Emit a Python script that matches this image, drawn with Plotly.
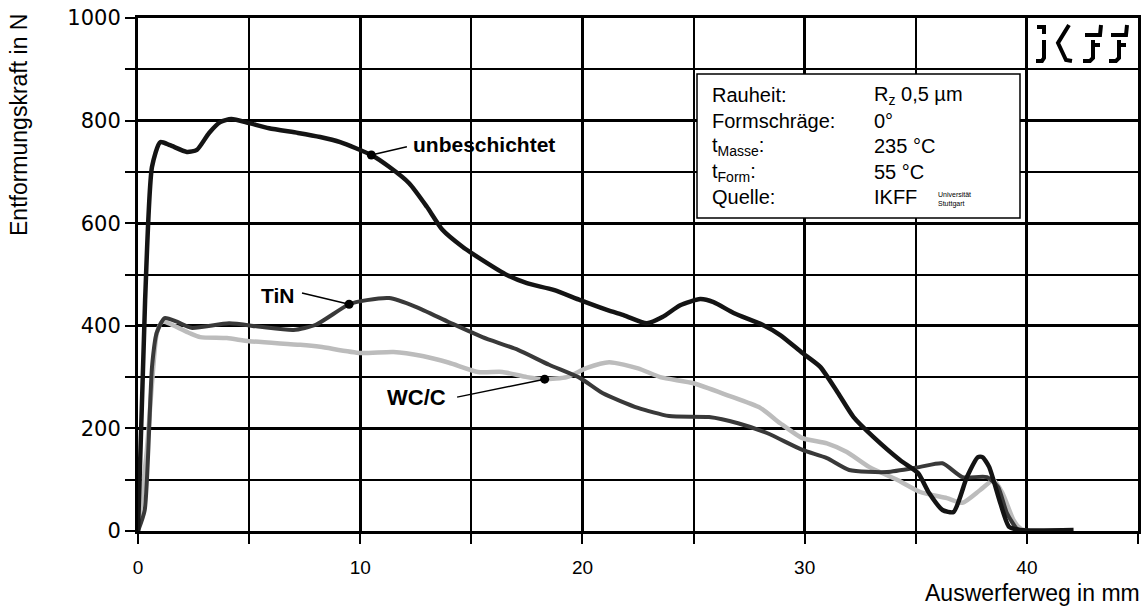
import plotly.graph_objects as go

# ---------------- data ----------------
unb_x = [0, 0.32, 0.63, 1.0, 1.44, 2.2, 2.65, 3.2, 3.7, 4.2, 5.0, 5.9, 7.2, 8.2, 9.1, 10.5, 11.3, 12.2, 13.0,
         13.7, 14.6, 15.5, 16.6, 17.5, 18.7, 19.9, 21.1, 21.9, 22.9, 23.6, 24.4, 25.3, 25.9, 26.8, 28.1, 28.9,
         29.9, 30.7, 31.5, 32.2, 33.1, 34.3, 35.1, 35.6, 36.2, 36.7, 37.3, 37.8, 38.0, 38.3, 38.8, 39.2, 39.7, 42.1]
unb_y = [0, 450, 710, 758, 752, 739, 743, 776, 797, 803, 795, 785, 776, 768, 758, 733, 710, 678, 632,
         587, 554, 528, 499, 483, 470, 450, 431, 420, 405, 417, 440, 452, 446, 425, 402, 382,
         347, 320, 269, 222, 183, 138, 113, 74, 41, 37, 105, 144, 144, 125, 55, 8, 2, 2]

tin_x = [0, 0.3, 0.63, 0.84, 1.2, 1.75, 2.4, 4.1, 5.5, 7.0, 8.0, 9.5, 10.3, 11.3, 12.5, 14.0, 15.5, 17.1,
         18.5, 19.9, 20.9, 22.5, 23.9, 25.7, 27.0, 28.3, 29.9, 31.0, 32.0, 33.7, 35.2, 36.2, 37.1, 38.2,
         38.7, 39.1, 39.6, 40.0]
tin_y = [0, 40, 320, 386, 415, 408, 396, 405, 398, 392, 402, 442, 450, 454, 437, 407, 378, 353,
         324, 298, 269, 240, 224, 222, 210, 191, 158, 142, 119, 115, 125, 132, 105, 105,
         86, 35, 2, 0]

wcc_x = [0, 0.4, 0.63, 0.85, 1.1, 2.3, 2.8, 4.0, 5.0, 7.3, 8.2, 10.0, 11.5, 12.8, 14.0, 15.3, 16.4, 17.5,
         18.3, 19.3, 20.2, 21.2, 22.5, 23.5, 25.0, 26.5, 28.0, 28.9, 29.9, 31.0, 31.9, 32.9, 34.2, 35.2,
         36.4, 37.1, 37.9, 38.5, 38.9, 39.4, 39.7, 40.0]
wcc_y = [0, 158, 288, 386, 408, 386, 378, 376, 370, 363, 359, 347, 349, 341, 328, 310, 310, 300,
         296, 300, 318, 329, 317, 300, 288, 265, 240, 210, 181, 171, 154, 125, 99, 76,
         64, 55, 80, 99, 74, 21, 5, 0]

series_names = ["WC/C", "TiN", "unbeschichtet"]
label_points = {"unbeschichtet": (10.5, 733), "TiN": (9.5, 442), "WC/C": (18.3, 296)}
leader_ends = {"unbeschichtet": (12.1, 749), "TiN": (7.38, 464), "WC/C": (14.36, 261)}

x_ticks = [0, 10, 20, 30, 40]
y_ticks = [0, 200, 400, 600, 800, 1000]

info_left = ["Rauheit:", "Formschräge:", "t<sub>Masse</sub>:", "t<sub>Form</sub>:", "Quelle:"]
info_right = ["R<sub>z</sub> 0,5 µm", "0°", "235 °C", "55 °C", "IKFF"]

# ---------------- figure ----------------
W, H = 1148, 606
ML, MR, MT, MB = 138, 10, 18, 75
PW, PH = W - ML - MR, H - MT - MB

fig = go.Figure()

styles = {
    "WC/C": dict(color="#bcbcbc", width=4.5),
    "TiN": dict(color="#393939", width=4),
    "unbeschichtet": dict(color="#141414", width=4.5),
}
data = {"WC/C": (wcc_x, wcc_y), "TiN": (tin_x, tin_y), "unbeschichtet": (unb_x, unb_y)}

for name in series_names:
    xs, ys = data[name]
    fig.add_trace(go.Scatter(x=xs, y=ys, mode="lines", name=name,
                             line=dict(shape="spline", smoothing=0.6, **styles[name]),
                             showlegend=False, hoverinfo="skip"))

# leader lines and dots
for name in series_names:
    px, py = label_points[name]
    ex, ey = leader_ends[name]
    fig.add_trace(go.Scatter(x=[px, ex], y=[py, ey], mode="lines",
                             line=dict(color="black", width=1.5), showlegend=False, hoverinfo="skip"))
    fig.add_trace(go.Scatter(x=[px], y=[py], mode="markers",
                             marker=dict(color="black", size=9), showlegend=False, hoverinfo="skip"))

lab_font = dict(family="Liberation Sans, Arial", size=21, color="black")
fig.add_annotation(x=leader_ends["unbeschichtet"][0], y=leader_ends["unbeschichtet"][1],
                   text="<b>unbeschichtet</b>", showarrow=False, xanchor="left", yanchor="middle",
                   xshift=4, yshift=2, font=lab_font)
fig.add_annotation(x=leader_ends["TiN"][0], y=leader_ends["TiN"][1],
                   text="<b>TiN</b>", showarrow=False, xanchor="right", yanchor="middle",
                   xshift=-6, yshift=-3, font=lab_font)
fig.add_annotation(x=leader_ends["WC/C"][0], y=leader_ends["WC/C"][1],
                   text="<b>WC/C</b>", showarrow=False, xanchor="right", yanchor="middle",
                   xshift=-9, yshift=0, font=dict(family="Liberation Sans, Arial", size=22, color="black"))

axis_common = dict(showline=True, linewidth=3, linecolor="black", mirror=True, automargin=False,
                   showgrid=True, gridcolor="black", gridwidth=2.5, zeroline=False,
                   ticks="outside", ticklen=10, tickwidth=2, tickcolor="black",
                   ticklabeloverflow="allow")

fig.update_xaxes(range=[0, 45], tickvals=x_ticks, **axis_common, ticklabelstandoff=7,
                 tickfont=dict(family="Liberation Sans, Arial", size=19, color="black"),
                 minor=dict(dtick=5, showgrid=True, gridcolor="black", gridwidth=1.5,
                            ticks="outside", ticklen=10, tickwidth=2, tickcolor="black"))
fig.update_yaxes(range=[0, 1000], tickvals=y_ticks, **axis_common,
                 tickfont=dict(family="DejaVu Sans", size=21, color="black"),
                 minor=dict(dtick=100, showgrid=True, gridcolor="black", gridwidth=1.5,
                            ticks="outside", ticklen=10, tickwidth=2, tickcolor="black"))


def px2paper(px, py):
    """screen pixel -> paper coordinates"""
    return (px - ML) / PW, (H - MB - py) / PH


# axis titles
tx, ty = px2paper(19, 12)
fig.add_annotation(xref="paper", yref="paper", x=tx, y=ty, xanchor="center", yanchor="top",
                   text="Entformungskraft in N", textangle=-90, showarrow=False,
                   font=dict(family="Liberation Sans, Arial", size=23, color="black"))
ax_, ay_ = px2paper(1142, 593)
fig.add_annotation(xref="paper", yref="paper", x=ax_, y=ay_, xanchor="right", yanchor="middle",
                   text="Auswerferweg in mm", showarrow=False,
                   font=dict(family="Liberation Sans, Arial", size=23, color="black"))

# info box
bx0, by0 = px2paper(697, 218)
bx1, by1 = px2paper(1020, 74)
fig.add_shape(type="rect", xref="paper", yref="paper", x0=bx0, y0=by0, x1=bx1, y1=by1,
              fillcolor="white", line=dict(color="black", width=1.5), layer="above")
row_py = [95, 121, 146, 172, 197]
info_font = dict(family="Liberation Sans, Arial", size=20, color="black")
for lt, rt, ry in zip(info_left, info_right, row_py):
    lx, yy = px2paper(710, ry)
    rx, _ = px2paper(872, ry)
    fig.add_annotation(xref="paper", yref="paper", x=lx, y=yy, text=lt, showarrow=False,
                       xanchor="left", yanchor="middle", font=info_font)
    fig.add_annotation(xref="paper", yref="paper", x=rx, y=yy, text=rt, showarrow=False,
                       xanchor="left", yanchor="middle", font=info_font)
ux, uy = px2paper(936, 199)
fig.add_annotation(xref="paper", yref="paper", x=ux, y=uy, text="Universität<br>Stuttgart",
                   showarrow=False, xanchor="left", yanchor="middle", align="left",
                   font=dict(family="Liberation Sans, Arial", size=7, color="black"))

# logo (stylised iKFF)
logo_strokes = [
    [(1037, 27), (1044, 27), (1044, 34)],
    [(1044, 40), (1044, 58), (1042, 61), (1036, 61)],
    [(1069, 25), (1058, 43), (1066, 60), (1072, 61)],
    [(1085, 35), (1100, 35), (1101, 25)],
    [(1093, 40), (1093, 58), (1090, 61), (1083, 61)],
    [(1093, 45), (1100, 45)],
    [(1111, 35), (1126, 35), (1127, 25)],
    [(1119, 40), (1119, 58), (1116, 61), (1109, 61)],
    [(1119, 45), (1126, 45)],
]
for stroke in logo_strokes:
    pts = [px2paper(a, b) for a, b in stroke]
    path = "M " + " L ".join(f"{a:.4f},{b:.4f}" for a, b in pts)
    fig.add_shape(type="path", xref="paper", yref="paper", path=path,
                  line=dict(color="black", width=4), layer="above")

fig.update_layout(width=W, height=H, margin=dict(l=ML, r=MR, t=MT, b=MB, autoexpand=False),
                  plot_bgcolor="white", paper_bgcolor="white")

fig.write_html("out.html", config={"displayModeBar": False},
               post_script="document.body.style.margin='0';")
